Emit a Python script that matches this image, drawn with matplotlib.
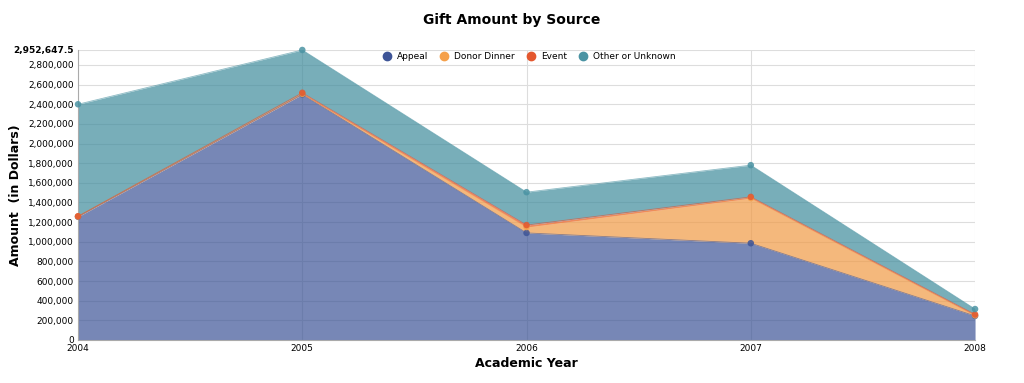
import matplotlib.pyplot as plt
import numpy as np

years = [2004, 2005, 2006, 2007, 2008]
series_names = ["Appeal", "Donor Dinner", "Event", "Other or Unknown"]
appeal = [1255000, 2500000, 1090000, 985000, 245000]
donor_dinner = [3000, 5000, 60000, 460000, 5000]
event = [2000, 12000, 20000, 12000, 10000]
other = [1140000, 435647.5, 335000, 323000, 55000]

fill_colors = ["#3d5497", "#f09a45", "#e8502a", "#3f8c9c"]
dot_colors = ["#3d5497", "#f5a04a", "#e4572e", "#4a93a3"]

fig = plt.figure(figsize=(10.24, 3.83), dpi=100)
ax = fig.add_axes([0.0762, 0.1123, 0.8760, 0.7572])

data = np.array([appeal, donor_dinner, event, other], dtype=float)
cum = np.cumsum(data, axis=0)
x = np.array(years)

bottom = np.zeros(len(years))
for i, name in enumerate(series_names):
    top = cum[i]
    ax.fill_between(x, bottom, top, color=fill_colors[i], alpha=0.7, linewidth=0, zorder=2)
    ax.plot(x, top, color=fill_colors[i], linewidth=0.6, alpha=0.6, zorder=3)
    bottom = top

# dots on each stacked top
for i in range(len(series_names)):
    ax.scatter(x, cum[i], s=22, color=dot_colors[i], alpha=0.85, zorder=4,
               edgecolors="none", clip_on=False)

ymax = 2952647.5
ax.set_xlim(2004, 2008)
ax.set_ylim(0, ymax)
ticks = list(range(0, 2800001, 200000)) + [ymax]
ax.set_yticks(ticks)
labels = ["{:,}".format(t) for t in range(0, 2800001, 200000)] + ["2,952,647.5"]
ax.set_yticklabels(labels, fontsize=6.5)
ax.get_yticklabels()[-1].set_fontweight("bold")
ax.set_xticks(years)
ax.set_xticklabels([str(y) for y in years], fontsize=6.5)
ax.tick_params(axis="y", length=0, pad=3)
ax.tick_params(axis="x", length=0, pad=3)

ax.grid(True, color="#dddddd", linewidth=0.8, zorder=0)
ax.set_axisbelow(True)
for s in ["top", "right"]:
    ax.spines[s].set_visible(False)
ax.spines["left"].set_color("#aaaaaa")
ax.spines["bottom"].set_color("#aaaaaa")

ax.set_xlabel("Academic Year", fontsize=9, fontweight="bold")
ax.xaxis.set_label_coords(0.5, -0.06)
ax.set_ylabel("Amount  (in Dollars)", fontsize=9, fontweight="bold")
ax.yaxis.set_label_coords(-0.062, 0.5)
fig.suptitle("Gift Amount by Source", fontsize=10, fontweight="bold", y=0.965)

handles = [plt.Line2D([], [], marker="o", linestyle="", markersize=6,
                      color=c, label=n) for c, n in zip(dot_colors, series_names)]
ax.legend(handles=handles, loc="upper center", bbox_to_anchor=(0.5, 1.02), ncol=4,
          frameon=False, fontsize=6.5, handletextpad=0.1, columnspacing=0.8)

fig.savefig("out.png", dpi=100)
